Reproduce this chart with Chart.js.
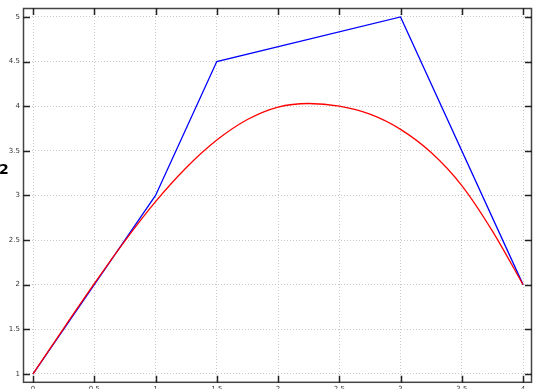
<!DOCTYPE html>
<html>
<head>
<meta charset="utf-8">
<script src="https://cdn.jsdelivr.net/npm/chart.js@4/dist/chart.umd.min.js"></script>
<style>
  body { margin: 0; background: #fff; }
  #wrap { width: 533px; height: 390px; }
</style>
</head>
<body>
<div id="wrap"><canvas id="myChart"></canvas></div>
<script>
// blue polyline (control points)
const puntosX = [0, 1, 1.5, 3, 4];
const puntosY = [1, 3, 4.5, 5, 2];
// red curve
const curvaX = [0, 0.25, 0.5, 0.75, 1, 1.25, 1.5, 1.75, 2, 2.25, 2.5, 2.75, 3, 3.25, 3.5, 3.75, 4];
const curvaY = [1, 1.51, 2.01, 2.49, 2.93, 3.31, 3.62, 3.85, 3.99, 4.03, 4.0, 3.91, 3.74, 3.48, 3.11, 2.6, 2];
// tick labels
const ticksX = [0, 0.5, 1, 1.5, 2, 2.5, 3, 3.5, 4];
const ticksY = [1, 1.5, 2, 2.5, 3, 3.5, 4, 4.5, 5];

function pares(xs, ys) {
  return xs.map((x, i) => ({ x: x, y: ys[i] }));
}

// box around the plot + inward tick marks (MATLAB look)
const marco = {
  id: "marco",
  afterDraw(chart) {
    const ctx = chart.ctx;
    const a = chart.chartArea;
    const sx = chart.scales.x;
    const sy = chart.scales.y;
    ctx.save();
    ctx.strokeStyle = "#444";
    ctx.lineWidth = 1.5;
    ctx.strokeRect(a.left + 0.5, a.top + 0.5, a.right - a.left - 1, a.bottom - a.top - 1);
    ctx.strokeStyle = "#222";
    ctx.beginPath();
    ticksX.forEach((v) => {
      const px = Math.round(sx.getPixelForValue(v)) + 0.5;
      ctx.moveTo(px, a.bottom);
      ctx.lineTo(px, a.bottom - 7);
      ctx.moveTo(px, a.top);
      ctx.lineTo(px, a.top + 7);
    });
    ticksY.forEach((v) => {
      const py = Math.round(sy.getPixelForValue(v)) + 0.5;
      ctx.moveTo(a.left, py);
      ctx.lineTo(a.left + 7, py);
      ctx.moveTo(a.right, py);
      ctx.lineTo(a.right - 7, py);
    });
    ctx.stroke();
    // clipped axis label on the far left
    ctx.fillStyle = "#000";
    ctx.font = "bold 14px 'DejaVu Sans'";
    ctx.textAlign = "left";
    ctx.textBaseline = "alphabetic";
    ctx.fillText("2", -1, 174);
    ctx.restore();
  },
};

const ctx = document.getElementById("myChart");
const myChart = new Chart(ctx, {
  type: "scatter",
  data: {
    datasets: [
      {
        label: "curva",
        data: pares(curvaX, curvaY),
        showLine: true,
        borderColor: "#ff0000",
        borderWidth: 1.3,
        pointRadius: 0,
        cubicInterpolationMode: "monotone",
        fill: false,
      },
      {
        label: "poligono",
        data: pares(puntosX, puntosY),
        showLine: true,
        borderColor: "#0000ff",
        borderWidth: 1.3,
        pointRadius: 0,
        tension: 0,
        fill: false,
      },
    ],
  },
  options: {
    responsive: true,
    maintainAspectRatio: false,
    animation: false,
    layout: { padding: { top: 8, right: 1, left: 0, bottom: 0 } },
    plugins: {
      legend: { display: false },
      tooltip: { enabled: false },
    },
    scales: {
      x: {
        type: "linear",
        min: -0.082,
        max: 4.073,
        afterBuildTicks: (s) => {
          s.ticks = ticksX.map((v) => ({ value: v }));
        },
        afterFit: (s) => {
          s.height = 6;
        },
        grid: {
          color: "#c8c8c8",
          drawTicks: false,
        },
        border: { display: false, dash: [1, 2] },
        ticks: {
          padding: 2,
          color: "#333",
          font: { size: 7, family: "'DejaVu Sans'" },
          maxRotation: 0,
          autoSkip: false,
          callback: (v) => String(v),
        },
      },
      y: {
        type: "linear",
        min: 0.9,
        max: 5.1,
        afterBuildTicks: (s) => {
          s.ticks = ticksY.map((v) => ({ value: v }));
        },
        afterFit: (s) => {
          s.width = 23;
        },
        grid: {
          color: "#c8c8c8",
          drawTicks: false,
        },
        border: { display: false, dash: [1, 2] },
        ticks: {
          padding: 3,
          color: "#333",
          font: { size: 7, family: "'DejaVu Sans'" },
          autoSkip: false,
          callback: (v) => String(v),
        },
      },
    },
  },
  plugins: [marco],
});
</script>
</body>
</html>
